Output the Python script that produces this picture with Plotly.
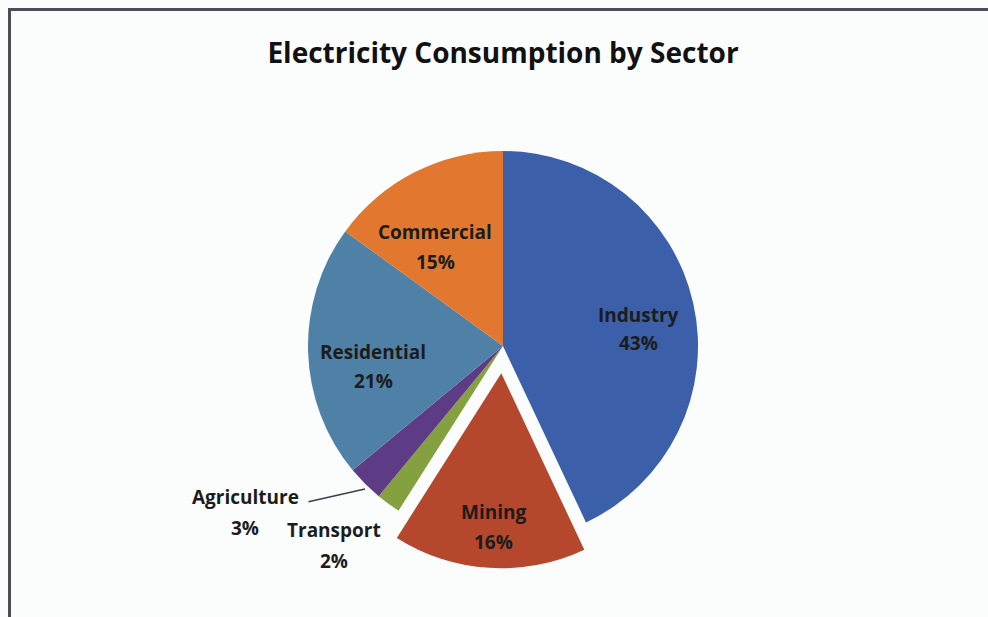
import plotly.graph_objects as go

# Sector shares of electricity consumption (percent), clockwise from 12 o'clock
sectors = ["Industry", "Mining", "Transport", "Agriculture", "Residential", "Commercial"]
shares = [43, 16, 2, 3, 21, 15]
pulls = [0, 0.14, 0, 0, 0, 0]
colors = ["#3b5fa9", "#b5472d", "#85a03f", "#5e3c85", "#4f80a6", "#e2782f"]

W, H = 988, 617
FONT = "Open Sans"
TEXT = "#1c1c1c"

# pie centre and radius in pixels; plotly shrinks r by (1 + max pull)
cx, cy, r = 503, 346, 195
box = 2 * r * (1 + max(pulls))

fig = go.Figure(
    go.Pie(
        labels=sectors,
        values=shares,
        pull=pulls,
        sort=False,
        direction="clockwise",
        rotation=0,
        textinfo="none",
        hoverinfo="label+percent",
        marker=dict(colors=colors, line=dict(width=0)),
        domain=dict(
            x=[(cx - box / 2) / W, (cx + box / 2) / W],
            y=[1 - (cy + box / 2) / H, 1 - (cy - box / 2) / H],
        ),
        showlegend=False,
    )
)

# label anchor points (pixel centres of name line and percent line)
label_pos = {
    "Industry": (638, 315, 343),
    "Mining": (493, 512, 542),
    "Transport": (334, 530, 561),
    "Agriculture": (245, 497, 528),
    "Residential": (373, 352, 381),
    "Commercial": (435, 232, 262),
}

annotations = []
for name, val in zip(sectors, shares):
    x, y1, y2 = label_pos[name]
    for txt, y in ((name, y1), (f"{val}%", y2)):
        annotations.append(
            dict(
                x=x / W, y=1 - y / H, xref="paper", yref="paper",
                text=f"<b>{txt}</b>", showarrow=False,
                xanchor="center", yanchor="middle",
                font=dict(family=FONT, size=19, color=TEXT),
            )
        )

# leader line from the Agriculture label to its slice
annotations.append(
    dict(
        x=365 / W, y=1 - 489 / H, xref="paper", yref="paper",
        ax=-58, ay=13, axref="pixel", ayref="pixel",
        text="", showarrow=True, arrowhead=0, arrowwidth=1.5, arrowcolor="#3a3f4a",
    )
)

shapes = [
    dict(type="line", xref="paper", yref="paper",
         x0=8 / W, x1=1, y0=1 - 9.5 / H, y1=1 - 9.5 / H,
         line=dict(color="#4a4e59", width=3)),
    dict(type="line", xref="paper", yref="paper",
         x0=9.5 / W, x1=9.5 / W, y0=0, y1=1 - 8 / H,
         line=dict(color="#4a4e59", width=3)),
]

fig.update_layout(
    width=W, height=H,
    margin=dict(l=0, r=0, t=0, b=0),
    paper_bgcolor="#fbfdfd",
    plot_bgcolor="#fbfdfd",
    title=dict(
        text="<b>Electricity Consumption by Sector</b>",
        x=503 / W, y=1 - 53 / H, xanchor="center", yanchor="middle",
        font=dict(family=FONT, size=28, color="#111111"),
    ),
    annotations=annotations,
    shapes=shapes,
)

fig.write_html("out.html")
